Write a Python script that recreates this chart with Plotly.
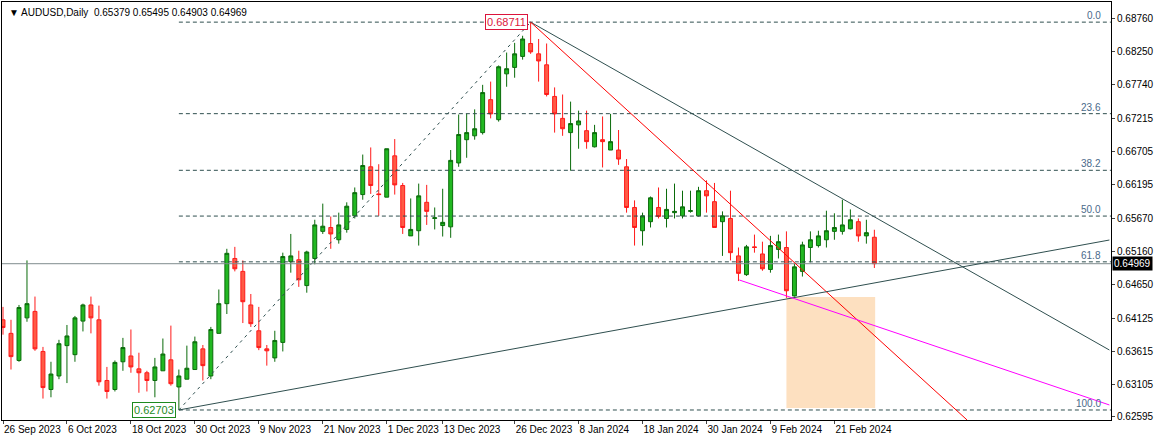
import plotly.graph_objects as go

# ---------------------------
# Data (AUDUSD daily)
# ---------------------------
opens = [0.6410, 0.6389, 0.6347, 0.6413, 0.6423, 0.6361, 0.6302, 0.6323, 0.6370, 0.6356,
         0.6408, 0.6433, 0.6410, 0.6316, 0.6302, 0.6345, 0.6354, 0.6334, 0.6328, 0.6316,
         0.6331, 0.6348, 0.6306, 0.6318, 0.6333, 0.6365, 0.6323, 0.6389, 0.6435, 0.6505,
         0.6485, 0.6433, 0.6393, 0.6365, 0.6351, 0.6375, 0.6500, 0.6503, 0.6463, 0.6505,
         0.6547, 0.6553, 0.6534, 0.6550, 0.6571, 0.6604, 0.6647, 0.6605, 0.6600, 0.6664,
         0.6618, 0.6540, 0.6548, 0.6592, 0.6567, 0.6556, 0.6554, 0.6653, 0.6689, 0.6695,
         0.6700, 0.6751, 0.6720, 0.6791, 0.6801, 0.6818, 0.6838, 0.6822, 0.6805, 0.6756,
         0.6722, 0.6700, 0.6712, 0.6703, 0.6678, 0.6689, 0.6673, 0.6673, 0.6647, 0.6584,
         0.6548, 0.6562, 0.6584, 0.6567, 0.6576, 0.6571, 0.6578, 0.6571, 0.6610, 0.6593,
         0.6562, 0.6567, 0.6509, 0.6480, 0.6523, 0.6512, 0.6488, 0.6519, 0.6522, 0.6447,
         0.6485, 0.6522, 0.6525, 0.6534, 0.6547, 0.6547, 0.6551, 0.6562, 0.6540, 0.65379]
highs = [0.6430, 0.6410, 0.6433, 0.6502, 0.6446, 0.6368, 0.6345, 0.6379, 0.6402, 0.6416,
         0.6435, 0.6446, 0.6432, 0.6337, 0.6347, 0.6382, 0.6395, 0.6359, 0.6331, 0.6351,
         0.6381, 0.6401, 0.6333, 0.6370, 0.6384, 0.6371, 0.6399, 0.6457, 0.6520, 0.6523,
         0.6502, 0.6450, 0.6430, 0.6371, 0.6393, 0.6514, 0.6543, 0.6517, 0.6517, 0.6565,
         0.6590, 0.6570, 0.6576, 0.6592, 0.6615, 0.6666, 0.6677, 0.6651, 0.6675, 0.6690,
         0.6622, 0.6598, 0.6621, 0.6619, 0.6584, 0.6613, 0.6673, 0.6728, 0.6729, 0.6736,
         0.6774, 0.6779, 0.6804, 0.6824, 0.6839, 0.6850, 0.68711, 0.6845, 0.6838, 0.6770,
         0.6759, 0.6748, 0.6734, 0.6734, 0.6712, 0.6725, 0.6729, 0.6704, 0.6659, 0.6595,
         0.6576, 0.6601, 0.6615, 0.6613, 0.6621, 0.6610, 0.6610, 0.6616, 0.6626, 0.6622,
         0.6578, 0.6610, 0.6522, 0.6526, 0.6542, 0.6531, 0.6540, 0.6542, 0.6547, 0.6497,
         0.6531, 0.6547, 0.6548, 0.6579, 0.6575, 0.6596, 0.6581, 0.6567, 0.6565, 0.65495]
lows = [0.6387, 0.6333, 0.6345, 0.6407, 0.6362, 0.6288, 0.6290, 0.6318, 0.6312, 0.6345,
        0.6392, 0.6389, 0.6308, 0.6288, 0.6299, 0.6331, 0.6328, 0.6297, 0.6299, 0.6290,
        0.6331, 0.6308, 0.62703, 0.6318, 0.6333, 0.6316, 0.6318, 0.6389, 0.6419, 0.6485,
        0.6405, 0.6399, 0.6363, 0.6339, 0.6345, 0.6361, 0.6483, 0.6461, 0.6452, 0.6496,
        0.6543, 0.6520, 0.6528, 0.6545, 0.6567, 0.6596, 0.6605, 0.6571, 0.6600, 0.6604,
        0.6543, 0.6540, 0.6525, 0.6557, 0.6550, 0.6539, 0.6537, 0.6647, 0.6661, 0.6689,
        0.6697, 0.6722, 0.6717, 0.6771, 0.6785, 0.6813, 0.6822, 0.6779, 0.6756, 0.6700,
        0.6695, 0.6641, 0.6675, 0.6675, 0.6677, 0.6646, 0.6673, 0.6650, 0.6576, 0.6525,
        0.6525, 0.6553, 0.6567, 0.6553, 0.6567, 0.6567, 0.6576, 0.6570, 0.6576, 0.6553,
        0.6509, 0.6502, 0.6470, 0.6478, 0.6514, 0.6486, 0.6483, 0.6505, 0.6444, 0.6446,
        0.6477, 0.6499, 0.6522, 0.6522, 0.6534, 0.6542, 0.6550, 0.6531, 0.6528, 0.64903]
closes = [0.6398, 0.6353, 0.6429, 0.6435, 0.6365, 0.6305, 0.6326, 0.6373, 0.6385, 0.6413,
          0.6433, 0.6413, 0.6314, 0.6299, 0.6344, 0.6367, 0.6337, 0.6328, 0.6316, 0.6337,
          0.6357, 0.6311, 0.6323, 0.6335, 0.6376, 0.6339, 0.6395, 0.6435, 0.6513, 0.6489,
          0.6438, 0.6404, 0.6367, 0.6362, 0.6378, 0.6508, 0.6509, 0.6472, 0.6515, 0.6557,
          0.6555, 0.6543, 0.6557, 0.6586, 0.6607, 0.6649, 0.6618, 0.6604, 0.6675, 0.6619,
          0.6553, 0.6550, 0.6602, 0.6578, 0.6568, 0.6561, 0.6657, 0.6697, 0.6700, 0.6706,
          0.6762, 0.6729, 0.6802, 0.6799, 0.6822, 0.6845, 0.6825, 0.6811, 0.6759, 0.6729,
          0.6706, 0.6714, 0.6718, 0.6686, 0.6700, 0.6686, 0.6686, 0.6659, 0.6584, 0.6553,
          0.6571, 0.6599, 0.6570, 0.6581, 0.6578, 0.6585, 0.6579, 0.6610, 0.6602, 0.6553,
          0.6571, 0.6514, 0.6482, 0.6523, 0.6522, 0.6489, 0.6525, 0.6531, 0.6455, 0.6492,
          0.6526, 0.6534, 0.6540, 0.6548, 0.6553, 0.6557, 0.6565, 0.6540, 0.6545, 0.64969]

date_tick_pos = [0, 8, 16, 24, 32, 40, 48, 55, 64, 72, 80, 88, 96, 104]
date_tick_text = ["26 Sep 2023", "6 Oct 2023", "18 Oct 2023", "30 Oct 2023", "9 Nov 2023",
                  "21 Nov 2023", "1 Dec 2023", "13 Dec 2023", "26 Dec 2023", "8 Jan 2024",
                  "18 Jan 2024", "30 Jan 2024", "9 Feb 2024", "21 Feb 2024"]
price_ticks = [0.68760, 0.68250, 0.67740, 0.67215, 0.66705, 0.66195, 0.65670,
               0.65160, 0.64650, 0.64125, 0.63615, 0.63105, 0.62595]

fib_ratios = [0.0, 23.6, 38.2, 50.0, 61.8, 100.0]
swing_low_idx, swing_low = 22, 0.62703
swing_high_idx, swing_high = 66, 0.68711
last_price = 0.64969

x = list(range(len(opens)))
X0, X1 = -0.125, 138.6
Y0, Y1 = 0.62548, 0.69023
DARK = "#2f4f4f"
FONT = "Liberation Sans"

fig = go.Figure()
fig.add_trace(go.Candlestick(
    x=x, open=opens, high=highs, low=lows, close=closes,
    increasing=dict(line=dict(color="#0a6b0a", width=1), fillcolor="#22b822"),
    decreasing=dict(line=dict(color="#ff1a1a", width=1), fillcolor="#ff5a45"),
    whiskerwidth=0, showlegend=False, hoverinfo="skip"))

shapes = []
# orange zone
shapes.append(dict(type="rect", x0=98, x1=109.1, y0=0.62734, y1=0.64453,
                   fillcolor="#fde0c0", line=dict(width=0), layer="below"))
# fibonacci levels
for r in fib_ratios:
    lvl = swing_high - (swing_high - swing_low) * r / 100
    shapes.append(dict(type="line", x0=swing_low_idx, x1=X1, y0=lvl, y1=lvl,
                       line=dict(color=DARK, width=1, dash="4px,3px")))
    fig.add_annotation(x=137.6, y=lvl, text=f"{r:.1f}", showarrow=False,
                       xanchor="right", yanchor="bottom", yshift=-1,
                       font=dict(size=10, color="#4a6a8a", family=FONT))
# fib base (dotted diagonal)
shapes.append(dict(type="line", x0=swing_low_idx, y0=swing_low, x1=swing_high_idx, y1=swing_high,
                   line=dict(color=DARK, width=1, dash="3px,4px")))
# current price line
shapes.append(dict(type="line", x0=X0, x1=X1, y0=last_price, y1=last_price,
                   line=dict(color="#7f8c8d", width=1)))
# trend lines
shapes.append(dict(type="line", x0=swing_high_idx, y0=swing_high, x1=138.4, y1=0.63632,
                   line=dict(color=DARK, width=1)))
shapes.append(dict(type="line", x0=swing_high_idx, y0=swing_high, x1=120.6, y1=0.62548,
                   line=dict(color="#ff0000", width=1)))
shapes.append(dict(type="line", x0=swing_low_idx, y0=swing_low, x1=138.4, y1=0.65336,
                   line=dict(color=DARK, width=1)))
shapes.append(dict(type="line", x0=92.1, y0=0.64717, x1=138.4, y1=0.62781,
                   line=dict(color="#ff00ff", width=1)))
fig.update_layout(shapes=shapes)

fig.add_annotation(x=swing_low_idx - 0.3, y=swing_low, text="0.62703", showarrow=False,
                   xanchor="right", yanchor="middle", bgcolor="white",
                   bordercolor="#1e8a1e", borderwidth=1, borderpad=1,
                   font=dict(size=11, color="#1e8a1e", family=FONT))
fig.add_annotation(x=swing_high_idx - 0.3, y=swing_high, text="0.68711", showarrow=False,
                   xanchor="right", yanchor="middle", bgcolor="white",
                   bordercolor="#dc143c", borderwidth=1, borderpad=1,
                   font=dict(size=11, color="#dc143c", family=FONT))
fig.add_annotation(x=1.0, xref="paper", y=last_price, text="0.64969", showarrow=False,
                   xanchor="left", yanchor="middle", bgcolor="black", xshift=1,
                   font=dict(size=10, color="white", family=FONT))
fig.add_annotation(x=0, xref="paper", y=1, yref="paper", xshift=5, yshift=-3,
                   text="▼ AUDUSD,Daily  0.65379 0.65495 0.64903 0.64969",
                   showarrow=False, xanchor="left", yanchor="top",
                   font=dict(size=10, color="black", family=FONT))

fig.update_layout(
    width=1156, height=440,
    margin=dict(l=2, r=45, t=2, b=20),
    paper_bgcolor="white", plot_bgcolor="white",
    font=dict(family=FONT, size=10, color="black"),
    xaxis=dict(range=[X0, X1], rangeslider=dict(visible=False), showgrid=False,
               tickmode="array", tickvals=date_tick_pos, ticktext=date_tick_text,
               ticks="outside", ticklen=3, ticklabelposition="outside right",
               tickangle=0, automargin=False,
               showline=True, linecolor="black", mirror=True, zeroline=False,
               tickfont=dict(size=10, family=FONT)),
    yaxis=dict(range=[Y0, Y1], side="right", showgrid=False,
               tickmode="array", tickvals=price_ticks,
               ticktext=[f"{v:.5f}" for v in price_ticks], automargin=False,
               ticks="outside", ticklen=3, showline=True, linecolor="black",
               mirror=True, zeroline=False, tickfont=dict(size=10, family=FONT)),
)

fig.write_html("out.html", config={"displayModeBar": False},
               post_script="document.body.style.margin='0';document.body.style.overflow='hidden';")
